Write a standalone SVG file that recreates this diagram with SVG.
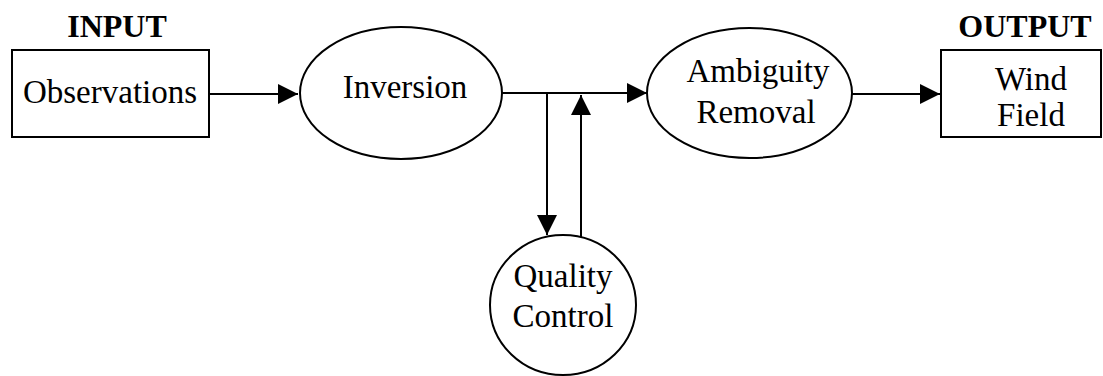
<svg xmlns="http://www.w3.org/2000/svg" width="1103" height="376" viewBox="0 0 1103 376">
  <style>
    .shape { fill: #fff; stroke: #000; stroke-width: 2; }
    .lbl { font-family: "Liberation Serif", "Times New Roman", serif; font-size: 33px; fill: #000; text-anchor: middle; }
    .hdr { font-family: "Liberation Serif", "Times New Roman", serif; font-size: 32px; font-weight: bold; fill: #000; text-anchor: middle; }
    .wire { fill: none; stroke: #000; stroke-width: 2; }
  </style>
  <defs>
    <marker id="arrow" viewBox="0 0 20 20" refX="20" refY="10" markerWidth="20" markerHeight="20" markerUnits="userSpaceOnUse" orient="auto">
      <path d="M0,0 L20,10 L0,20 Z" fill="#000"/>
    </marker>
  </defs>
  <rect width="1103" height="376" fill="#fff"/>

  <text class="hdr" x="117" y="37">INPUT</text>
  <text class="hdr" x="1025" y="37">OUTPUT</text>

  <g id="observations">
    <rect class="shape" x="12" y="50" width="197" height="87"/>
    <text class="lbl" x="110" y="103">Observations</text>
  </g>

  <g id="inversion">
    <ellipse class="shape" cx="401" cy="93" rx="101" ry="66"/>
    <text class="lbl" x="405" y="98">Inversion</text>
  </g>

  <g id="ambiguity-removal">
    <ellipse class="shape" cx="749.5" cy="93" rx="102.5" ry="65"/>
    <text class="lbl" x="758" y="82">Ambiguity</text>
    <text class="lbl" x="756" y="123">Removal</text>
  </g>

  <g id="quality-control">
    <ellipse class="shape" cx="563" cy="305" rx="73" ry="70"/>
    <text class="lbl" x="563" y="287">Quality</text>
    <text class="lbl" x="563" y="327">Control</text>
  </g>

  <g id="wind-field">
    <rect class="shape" x="941" y="50" width="160" height="87"/>
    <text class="lbl" x="1031" y="90">Wind</text>
    <text class="lbl" x="1031" y="126">Field</text>
  </g>

  <g id="connectors">
    <line class="wire" x1="209" y1="94" x2="298" y2="94" marker-end="url(#arrow)"/>
    <line class="wire" x1="502" y1="93" x2="647" y2="93" marker-end="url(#arrow)"/>
    <line class="wire" x1="547" y1="93" x2="547" y2="235" marker-end="url(#arrow)"/>
    <line class="wire" x1="581" y1="237" x2="581" y2="95" marker-end="url(#arrow)"/>
    <line class="wire" x1="852" y1="94" x2="940" y2="94" marker-end="url(#arrow)"/>
  </g>
</svg>
